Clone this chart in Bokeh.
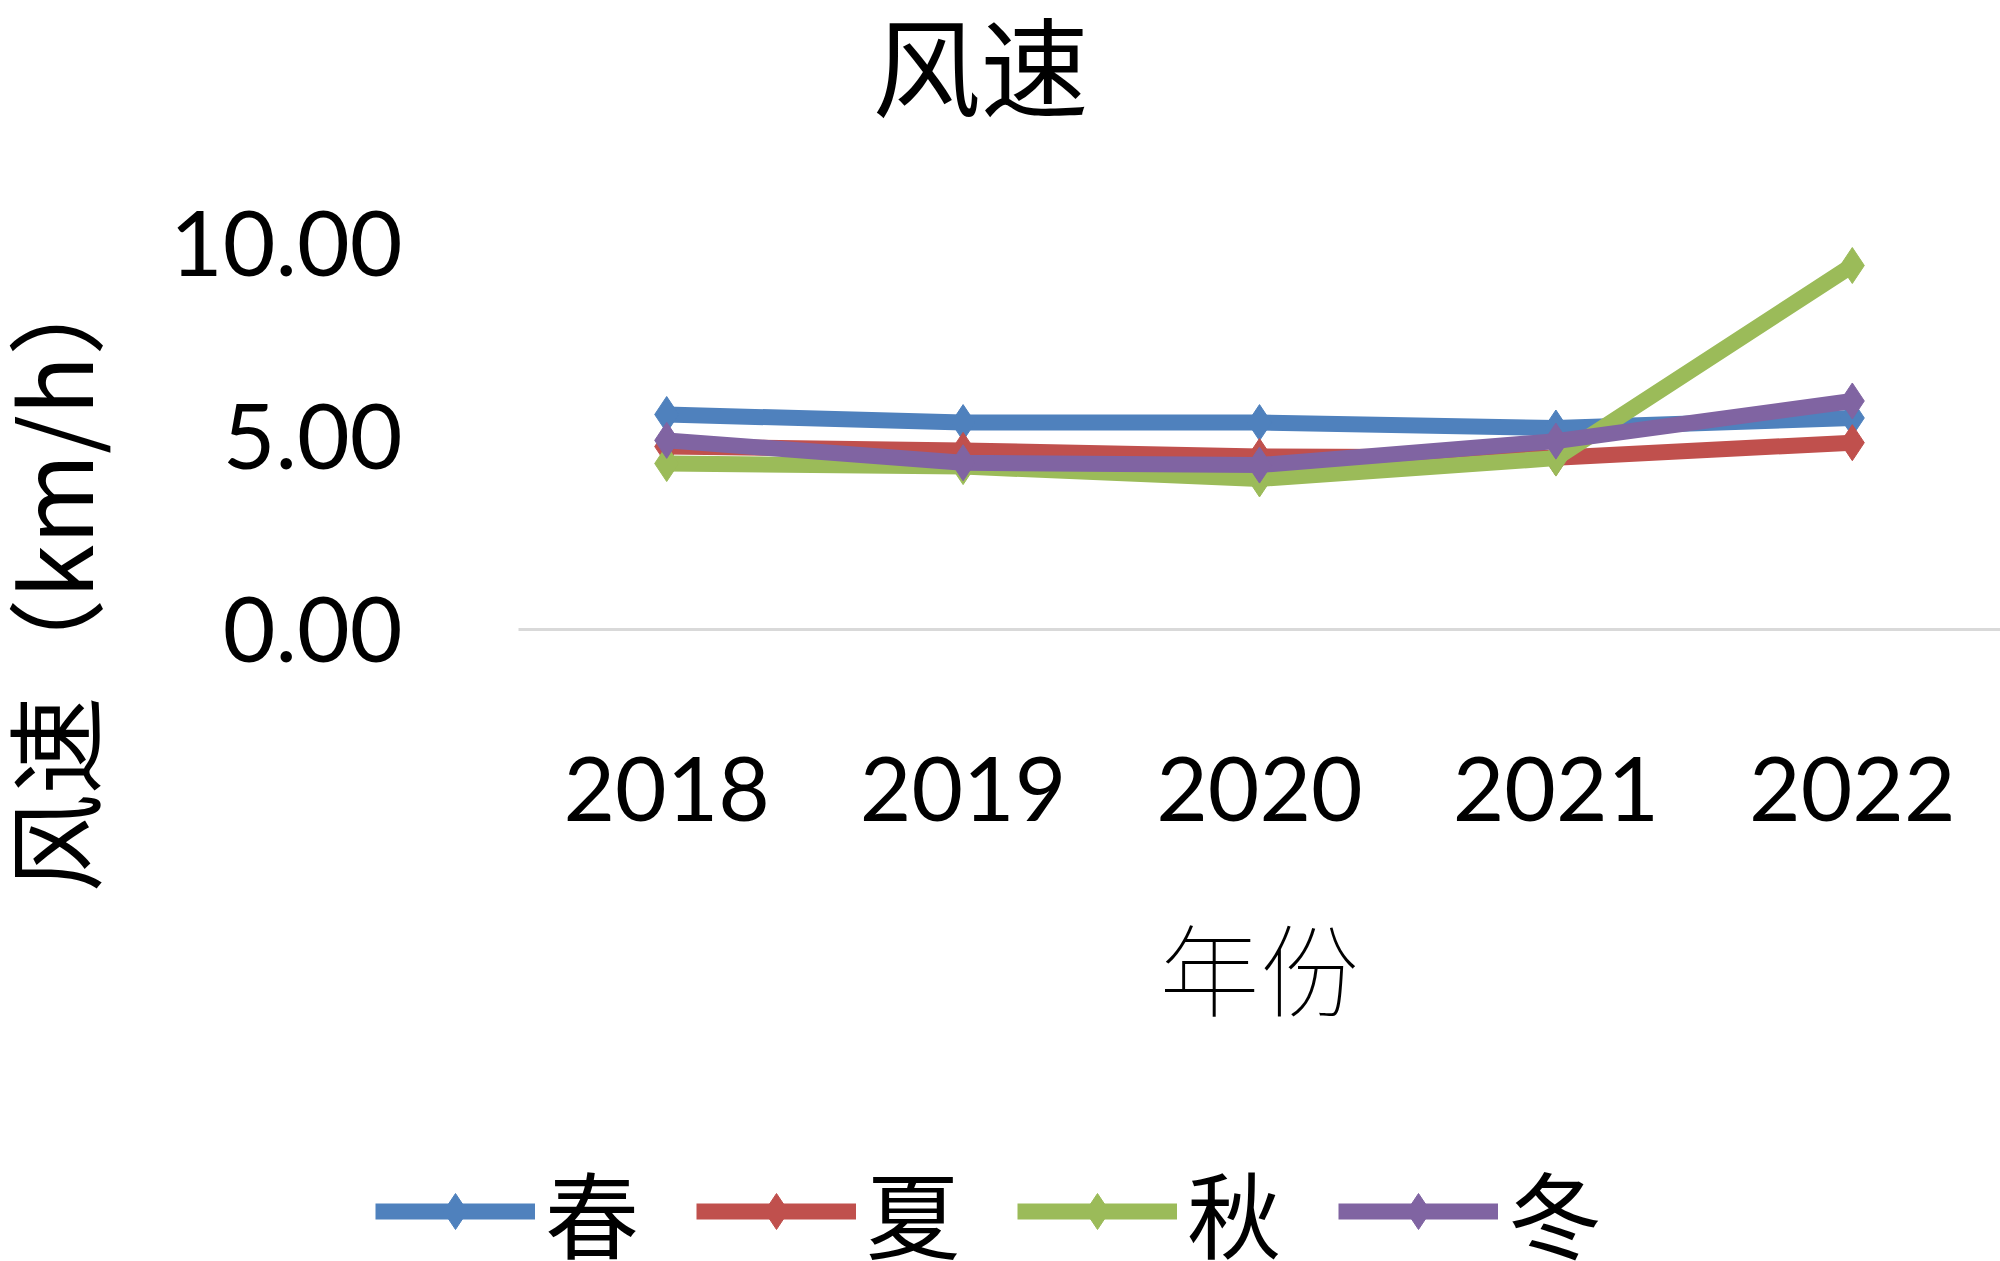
from bokeh.plotting import figure
from bokeh.layouts import column, row
from bokeh.models import Title, Legend, LegendItem, FactorRange, Range1d, NumeralTickFormatter, FixedTicker
from bokeh.embed import file_html
from bokeh.resources import INLINE

years = ["2018", "2019", "2020", "2021", "2022"]
spring = [5.57, 5.36, 5.36, 5.22, 5.48]
summer = [4.74, 4.64, 4.48, 4.45, 4.84]
autumn = [4.30, 4.22, 3.90, 4.44, 9.43]
winter = [4.90, 4.32, 4.26, 4.88, 5.92]
series_names = ["春", "夏", "秋", "冬"]
series_values = [spring, summer, autumn, winter]
colors = ["#4F81BD", "#C0504D", "#9BBB59", "#8064A2"]
y_ticks = [0, 5, 10]

W = 2000
H1, H2 = 1130, 131
FL, FT, FB = 518, 243, 629  # frame left, top, bottom

CJK = "Noto Sans CJK SC"
NUM = "Lato"

p = figure(width=W, height=H1, x_range=FactorRange(*years), y_range=Range1d(0, 10),
           output_backend="svg", toolbar_location=None,
           min_border_left=FL, min_border_right=0, min_border_top=FT,
           min_border_bottom=H1 - FB)
p.outline_line_color = None
p.background_fill_color = "white"
p.border_fill_color = "white"
p.xgrid.visible = False
p.ygrid.visible = False

p.yaxis.ticker = FixedTicker(ticks=y_ticks)
p.yaxis.formatter = NumeralTickFormatter(format="0.00")
p.yaxis.axis_line_color = None
p.yaxis.major_tick_line_color = None
p.yaxis.minor_tick_line_color = None
p.yaxis.major_label_text_font = NUM
p.yaxis.major_label_text_font_size = "91px"
p.yaxis.major_label_text_color = "black"
p.yaxis.major_label_standoff = 110

p.xaxis.axis_line_color = "#D9D9D9"
p.xaxis.axis_line_width = 3
p.xaxis.major_tick_line_color = None
p.xaxis.minor_tick_line_color = None
p.xaxis.major_label_text_font = NUM
p.xaxis.major_label_text_font_size = "89px"
p.xaxis.major_label_text_color = "black"
p.xaxis.major_label_standoff = 121
p.xaxis.axis_label = "年份"
p.xaxis.axis_label_text_font = CJK
p.xaxis.axis_label_text_font_style = "normal"
p.xaxis.axis_label_text_font_size = "100px"
p.xaxis.axis_label_text_color = "black"
p.xaxis.axis_label_standoff = 69

for name, vals, c in zip(series_names, series_values, colors):
    p.line(years, vals, line_color=c, line_width=16)
    p.scatter(years, vals, marker="diamond", size=36, fill_color=c, line_color=c)

# above: spacer next to the frame, then the chart title at the top
p.add_layout(Title(text=" ", text_font=CJK, text_font_size="10px", standoff=109), "above")
p.add_layout(Title(text="风速", text_font=CJK, text_font_size="108px", align="left",
                   offset=354, text_font_style="normal", text_color="black", standoff=-44), "above")

# left: y axis, spacer, then the y-axis title at the far left
p.add_layout(Title(text=" ", text_font=CJK, text_font_size="10px", standoff=57), "left")
p.add_layout(Title(text="风速（km/h）", text_font=CJK, text_font_size="98px", align="left",
                   offset=-263, text_font_style="normal", text_color="black", standoff=-56), "left")

# legend strip (series drawn out of view so only the legend shows)
q = figure(width=W, height=H2, x_range=FactorRange(*years), y_range=Range1d(100, 101),
           output_backend="svg", toolbar_location=None,
           x_axis_location=None, y_axis_location=None,
           min_border_left=0, min_border_right=0, min_border_top=0, min_border_bottom=0)
q.outline_line_color = None
q.xgrid.visible = False
q.ygrid.visible = False
items = []
for name, vals, c in zip(series_names, series_values, colors):
    r1 = q.line(years, vals, line_color=c, line_width=16)
    r2 = q.scatter(years, vals, marker="diamond", size=36, fill_color=c, line_color=c)
    items.append(LegendItem(label=name, renderers=[r1, r2]))

legend = Legend(items=items, orientation="horizontal", location=(375, -18),
                glyph_width=160, glyph_height=90, label_standoff=10, spacing=57,
                padding=0, margin=0, border_line_color=None, background_fill_alpha=0,
                label_text_font=CJK, label_text_font_size="94px", label_text_color="black")
q.add_layout(legend, "center")

layout = column(p, row(q), spacing=0)
open("out.html", "w").write(file_html(layout, INLINE))
